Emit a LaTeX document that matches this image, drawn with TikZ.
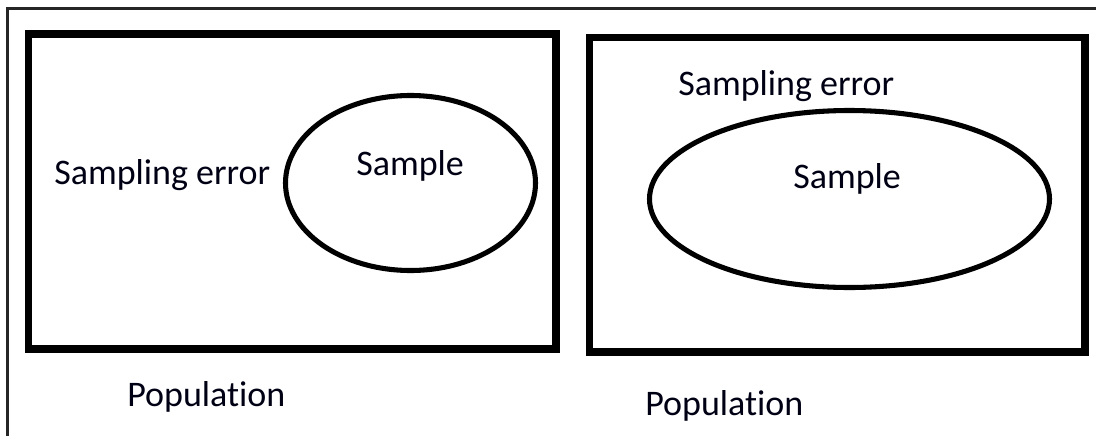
\documentclass[tikz,border=0pt]{standalone}
\usepackage{fontspec}
\setmainfont[Ligatures=NoCommon]{Carlito}
\begin{document}
\begin{tikzpicture}[x=0.75pt,y=-0.75pt,
  frame/.style={draw=black,line width=5.6pt,line join=miter},
  ring/.style={draw=black,line width=3.8pt},
  label/.style={anchor=base west,inner sep=0pt,text=black!92!blue,font=\fontsize{27}{32}\selectfont}]
\useasboundingbox (0,0) rectangle (1096,436);
% thin outer border (left and top)
\draw[line width=1.9pt,black!85] (7.5,436) -- (7.5,8.5) -- (1096,8.5);

% left panel: population box with a smaller sample
\draw[frame] (28.5,34) rectangle (556,349);
\draw[ring] (410.5,183) ellipse [x radius=125,y radius=87.5];
\node[label] (errL) at (54,184) {Sampling error};
\node[label] (sampL) at (356,175) {Sample};
\node[label] (popL) at (127,406) {Population};

% right panel: population box with a larger sample
\draw[frame] (589.5,37.5) rectangle (1085,352);
\draw[ring] (849.5,199) ellipse [x radius=200,y radius=88.5];
\node[label] (errR) at (678,95) {Sampling error};
\node[label] (sampR) at (793,188) {Sample};
\node[label] (popR) at (645,415) {Population};
\end{tikzpicture}
\end{document}
